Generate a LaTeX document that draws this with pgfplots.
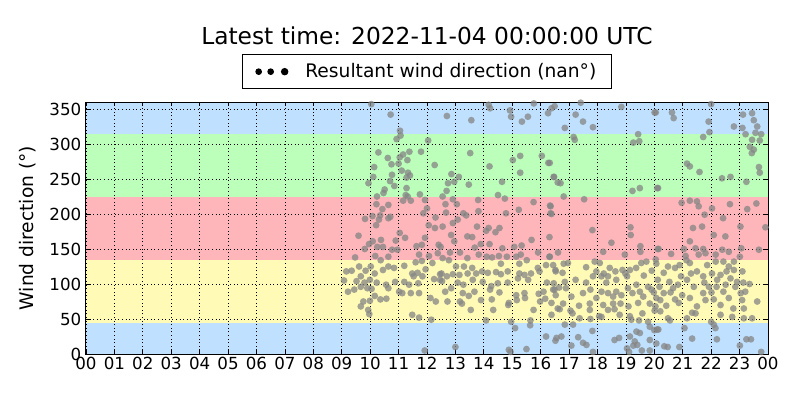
\documentclass[border=0pt]{standalone}
\usepackage{fontspec}
\setmainfont{DejaVu Sans}
\usepackage{pgfplots}
\pgfplotsset{compat=1.18}
\usepackage{pgfplotstable}
\definecolor{bandblue}{RGB}{191,224,255}
\definecolor{bandgreen}{RGB}{187,255,187}
\definecolor{bandred}{RGB}{255,182,187}
\definecolor{bandyellow}{RGB}{255,251,182}
\pgfplotstableread{
h d
10.04 357
10.72 342
11.05 319
11.07 312
10.93 307
12.04 305
10.29 288
11.16 285
11.38 289
11.79 289
10.62 280
11.04 281
11.31 277
10.75 271
11.0 272
10.14 267
11.11 262
11.33 259
10.77 256
11.4 255
10.11 253
12.27 270
11.28 252
10.7 247
9.94 244
10.85 240
11.28 237
10.51 235
10.47 230
11.75 228
11.25 227
11.32 225
10.24 225
11.93 220
11.16 219
11.43 219
10.22 214
10.64 213
10.43 207
11.87 201
12.0 208
10.08 197
10.71 196
10.35 198
9.82 193
10.31 192
12.3 195
10.64 194
10.21 184
12.06 184
12.28 180
11.04 173
11.93 166
9.59 169
11.23 166
10.9 162
10.38 163
10.09 161
9.96 157
12.41 156
11.63 154
11.82 156
10.25 153
10.45 153
10.77 149
10.96 149
9.81 150
9.47 138
10.18 140
10.64 139
10.37 134
11.72 142
12.07 140
11.6 131
11.82 133
12.19 130
12.38 144
10.02 125
9.61 125
11.2 126
10.84 123
9.16 118
9.35 119
9.84 119
10.16 115
10.45 120
10.64 125
11.48 115
11.67 116
11.95 121
12.46 114
9.67 111
9.52 104
9.08 105
9.8 102
9.99 106
10.23 102
10.56 99
10.88 103
11.2 103
11.53 111
11.69 101
11.84 111
12.25 107
12.53 104
9.9 94
10.05 93
9.67 96
10.64 94
11.02 89
11.37 99
11.72 87
11.43 87
9.22 89
9.44 92
11.13 87
12.12 80
12.31 75
10.16 83
10.36 78
10.57 79
9.99 76
9.76 75
9.67 68
9.93 63
9.97 57
11.48 56
11.72 52
12.15 49
11.92 5
14.17 356
14.22 351
14.92 348
14.96 339
15.76 358
12.7 340
13.56 334
15.34 332
15.55 339
16.26 344
16.49 354
13.52 287
15.28 283
15.02 277
16.04 283
16.27 273
14.2 268
15.28 259
16.47 253
12.86 257
12.96 246
12.74 244
13.12 253
13.47 242
14.64 246
12.69 233
16.6 245
12.55 225
14.5 227
14.74 222
13.8 220
12.91 221
15.75 217
12.65 214
13.05 214
15.23 206
12.67 202
16.33 212
13.81 204
13.28 201
13.38 198
14.78 201
16.35 201
13.08 192
12.91 187
12.55 182
13.76 182
14.17 180
14.55 180
14.41 174
14.08 176
12.85 170
13.42 168
13.59 167
15.68 163
16.31 167
12.96 161
13.89 157
14.2 157
13.68 152
14.65 151
15.07 153
15.33 155
12.48 153
12.81 145
13.16 145
15.91 145
16.31 139
14.53 140
14.81 139
15.14 139
15.3 142
14.29 138
14.1 139
13.82 142
13.42 137
12.77 134
12.55 137
14.6 129
15.25 129
15.51 134
15.9 123
16.19 127
16.52 120
13.02 125
13.3 125
13.59 123
12.91 114
12.51 115
12.7 111
13.14 113
13.43 115
13.73 115
13.94 118
14.14 116
14.43 117
14.6 114
14.84 118
15.25 115
15.43 113
15.66 115
15.96 118
12.46 106
13.08 102
13.28 99
13.61 106
13.96 103
14.26 97
14.49 101
14.84 102
15.2 108
15.56 106
16.22 102
12.64 89
12.85 94
13.26 87
13.67 89
14.22 92
14.55 88
15.14 84
15.43 87
15.93 86
16.1 89
16.49 92
12.72 75
13.16 75
13.47 83
13.9 77
14.28 78
14.88 73
15.16 77
15.45 80
15.98 75
16.16 79
13.23 72
13.54 63
14.33 63
14.86 70
15.75 63
16.6 65
14.08 48
14.96 46
15.64 48
15.1 37
15.63 41
16.19 25
16.52 19
13.0 10
14.88 6
15.5 7
14.94 3
16.38 351
17.41 359
18.84 353
17.23 342
17.49 332
16.85 323
17.84 324
20.05 345
17.16 310
17.2 306
19.43 314
19.26 302
19.47 304
16.32 273
16.46 253
16.7 244
16.81 225
19.23 233
19.49 237
20.13 237
17.53 221
16.35 211
16.38 200
17.82 177
19.16 181
19.17 170
18.49 159
19.51 154
19.51 146
20.15 150
16.32 139
16.61 145
18.2 146
18.96 142
17.9 132
18.08 130
19.54 130
19.72 132
20.05 135
16.44 127
16.81 129
16.96 130
17.6 124
18.43 123
18.88 120
19.14 120
16.53 118
16.77 116
17.96 118
18.22 115
18.63 118
18.98 115
19.36 123
19.91 119
17.84 111
18.14 111
18.37 111
18.66 106
19.04 111
19.63 112
17.23 106
17.6 102
16.46 101
16.85 103
18.31 102
19.37 99
19.78 96
16.44 92
16.65 95
16.89 94
17.75 92
18.14 89
18.66 89
19.07 94
19.49 89
19.9 92
16.53 84
17.08 82
17.49 87
17.96 80
18.37 87
18.55 82
18.84 84
19.23 87
19.61 82
20.07 80
16.38 73
16.79 72
17.35 69
17.73 72
18.2 70
18.55 72
18.81 72
19.09 68
19.43 73
19.84 72
16.67 64
17.05 62
17.12 58
17.73 63
18.06 54
18.37 63
18.6 64
18.78 56
19.14 54
19.58 58
20.01 62
16.38 56
17.37 51
17.75 50
18.14 53
19.19 49
19.46 48
19.78 46
16.85 42
17.14 42
19.84 39
20.1 35
17.82 33
19.37 32
16.56 23
16.73 25
17.32 24
17.49 16
17.61 13
18.6 20
18.76 23
19.14 25
19.49 30
17.08 12
17.84 3
19.04 8
19.11 3
19.26 12
19.4 13
19.56 5
19.84 5
19.84 20
20.07 15
19.31 18
20.01 345
20.62 345
20.68 337
22.0 357
21.91 332
21.94 317
21.72 310
23.12 342
23.44 344
23.5 334
23.62 325
22.8 325
23.1 323
23.76 314
23.56 316
23.21 314
23.44 306
23.71 305
23.36 296
23.5 292
23.43 287
21.15 272
21.25 268
21.59 260
23.68 267
23.71 259
22.38 251
22.68 253
23.24 246
20.1 237
20.96 216
21.25 219
21.5 218
21.56 211
22.03 208
22.66 214
23.27 207
23.59 215
21.77 199
22.42 194
21.36 180
21.68 182
23.03 182
23.91 181
22.09 170
22.5 168
21.25 161
20.12 150
21.45 151
21.04 150
21.72 150
22.39 149
22.62 146
23.06 151
23.68 149
20.59 143
21.1 140
21.56 142
21.8 144
22.16 142
23.01 139
21.13 134
21.25 130
20.07 129
20.89 127
21.86 127
22.16 132
22.43 132
22.8 132
20.48 125
20.73 123
21.5 118
21.29 115
22.62 125
22.8 120
23.1 118
20.33 116
20.94 111
21.72 111
22.03 115
22.33 113
22.54 118
22.68 108
20.12 106
20.53 103
21.15 106
21.76 102
22.21 106
22.91 103
23.35 100
23.13 102
20.18 96
20.66 94
20.83 99
21.39 96
21.92 96
22.19 96
22.51 99
22.85 96
23.2 89
19.98 88
20.33 87
20.57 88
20.98 84
21.72 87
22.01 88
22.43 89
23.04 87
20.21 77
20.73 78
21.25 80
21.8 77
22.09 78
22.62 80
23.09 77
23.62 75
20.04 68
20.86 73
20.42 69
21.5 68
22.33 70
22.78 65
23.15 65
20.21 61
21.33 59
21.45 58
22.33 56
22.74 53
20.48 51
20.55 48
21.15 51
22.0 46
23.15 51
23.44 51
22.09 42
22.15 37
20.0 34
20.14 35
21.06 37
20.35 11
20.47 10
20.88 10
21.33 22
22.2 21
23.01 12
23.24 21
23.4 21
23.76 3
}\winddata
\begin{document}
\begin{tikzpicture}
\begin{axis}[
  set layers=standard,
  at={(0pt,0pt)}, anchor=south west,
  scale only axis, width=511.5pt, height=189pt,
  xmin=0, xmax=24, ymin=0, ymax=360,
  xtick={0,1,...,24},
  xticklabels={00,01,02,03,04,05,06,07,08,09,10,11,12,13,14,15,16,17,18,19,20,21,22,23,00},
  ytick={0,50,...,350},
  /pgf/number format/assume math mode=true,
  tick label style={font=\fontsize{12.5}{15}\selectfont},
  xticklabel style={yshift=1pt},
  tick align=inside,
  major tick length=3pt,
  tick style={black, line width=0.6pt},
  axis line style={line width=0.75pt},
  grid=major,
  major grid style={black, line width=0.6pt, dash pattern=on 0.7pt off 2pt},
  ylabel={Wind direction (°)},
  ylabel style={font=\fontsize{14}{16}\selectfont, at={(axis description cs:-0.085,0.5)}, anchor=center},
  title={Latest time: 2022-11-04 00:00:00 UTC},
  title style={font=\fontsize{17.5}{20}\selectfont, at={(0.5,1)}, anchor=base, yshift=37.5pt},
  legend style={at={(0.5,1)}, anchor=south, yshift=9.5pt, draw=black, line width=0.75pt,
    font=\fontsize{14}{16}\selectfont, inner xsep=9pt, inner ysep=4.8pt},
  legend cell align=left,
]
\addplot[on layer=axis background, fill=bandblue, draw=none, forget plot] coordinates {(0,360) (24,360)} \closedcycle;
\addplot[on layer=axis background, fill=bandgreen, draw=none, forget plot] coordinates {(0,315) (24,315)} \closedcycle;
\addplot[on layer=axis background, fill=bandred, draw=none, forget plot] coordinates {(0,225) (24,225)} \closedcycle;
\addplot[on layer=axis background, fill=bandyellow, draw=none, forget plot] coordinates {(0,135) (24,135)} \closedcycle;
\addplot[on layer=axis background, fill=bandblue, draw=none, forget plot] coordinates {(0,45) (24,45)} \closedcycle;
\addplot[only marks, mark=*, mark size=2.55pt, mark options={fill=black!48, draw opacity=0, fill opacity=0.75}, forget plot] table[x=h, y=d] {\winddata};
\addlegendimage{legend image code/.code={
  \path[draw=none, fill=none] (-2.75pt,0pt) -- (33pt,0pt);
  \fill[black] (0pt,0pt) circle (2.1pt);
  \fill[black] (9pt,0pt) circle (2.1pt);
  \fill[black] (19.5pt,0pt) circle (2.4pt);
}}
\addlegendentry{Resultant wind direction (nan°)}
\end{axis}
\pgfresetboundingbox
\path[use as bounding box] (-64.5pt,-34.5pt) rectangle (535.5pt,265.5pt);
\end{tikzpicture}
\end{document}
